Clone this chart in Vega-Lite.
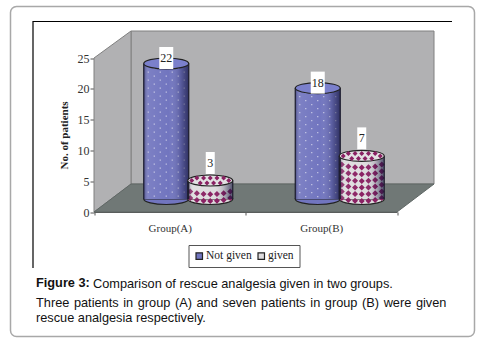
{
"$schema":"https://vega.github.io/schema/vega-lite/v6.json",
"width":464,"height":330,
"autosize":"none",
"padding":{"left":10.5,"top":6.5,"right":10.5,"bottom":7.5},
"background":"white",
"view":{"stroke":"#a8a8a8","strokeWidth":1.5,"cornerRadius":6,"fill":"white"},
"title":{"text":"Figure 3:","subtitle":["Three \u200apatients \u200ain \u200agroup \u200a(A) \u200aand \u200aseven \u200apatients \u200ain \u200agroup \u200a(B) \u200awere \u200agiven","rescue analgesia respectively."],"orient":"bottom","anchor":"start","frame":"group","offset":-60,"dx":25.5,"font":"Liberation Sans","fontSize":12.75,"fontWeight":"bold","color":"#111","subtitleFont":"Liberation Sans","subtitleFontSize":12.75,"subtitleColor":"#111","subtitlePadding":8,"subtitleLineHeight":15},
"data":{"values":[
{"group":"Group(A)","series":"Not given","value":22},
{"group":"Group(A)","series":"given","value":3},
{"group":"Group(B)","series":"Not given","value":18},
{"group":"Group(B)","series":"given","value":7}
]},
"config":{"axis":{"labelFont":"Liberation Serif","titleFont":"Liberation Serif","labelColor":"#333","titleColor":"#222"}},
"layer":[
{"data":{"values":[{}]},"mark":{"type":"point","filled":true,"size":4,"fill":"#b1b1b3","stroke":"#808080","strokeWidth":1,"opacity":1,"shape":"M37,-181H340V-28H37Z"},"encoding":{"x":{"datum":"Group(A)","bandPosition":0,"scale":{"domain":["Group(A)","Group(B)"],"range":[83.5,386.5],"paddingInner":0,"paddingOuter":0},"axis":{"orient":"bottom","offset":-124.5,"tickBand":"extent","domainColor":"#555","tickColor":"#555","tickSize":3,"labelAngle":0,"labelFontSize":11,"labelPadding":7,"title":"Comparison of rescue analgesia given in two groups.","titleFont":"Liberation Sans","titleFontSize":12.75,"titleFontWeight":"normal","titleColor":"#111","titleX":82,"titleY":75,"titleAlign":"left","titleBaseline":"alphabetic"}},"y":{"datum":0,"type":"quantitative","scale":{"domain":[0,25],"range":[205.5,51.5],"nice":false},"axis":{"orient":"left","offset":-83.5,"values":[0,5,10,15,20,25],"grid":false,"domainColor":"#555","tickColor":"#555","tickSize":4,"labelFontSize":12,"labelPadding":1,"title":"No. of patients","titleFontSize":11,"titleFontWeight":"bold","titlePadding":8}}}},
{"data":{"values":[{}]},"mark":{"type":"point","filled":true,"size":4,"fill":"#b1b1b3","stroke":"#808080","strokeWidth":1,"opacity":1,"shape":"M0,-154L37,-181V-28L0,0Z"},"encoding":{"x":{"datum":"Group(A)","bandPosition":0},"y":{"datum":0,"type":"quantitative"}}},
{"data":{"values":[{}]},"mark":{"type":"point","filled":true,"size":4,"fill":"#707876","stroke":"#5f6765","strokeWidth":1,"opacity":1,"shape":"M0,0L37,-28H340L303,0Z"},"encoding":{"x":{"datum":"Group(A)","bandPosition":0},"y":{"datum":0,"type":"quantitative"}}},
{"data":{"values":[{}]},"mark":{"type":"point","filled":false,"size":4,"fill":"transparent","stroke":"black","strokeWidth":1.2,"opacity":1,"shape":"M-61,56V-190.5H358"},"encoding":{"x":{"datum":"Group(A)","bandPosition":0},"y":{"datum":0,"type":"quantitative"}}},

{"mark":{"type":"point","filled":true,"size":4,"opacity":1,"shape":"M-22.5,0A22.5,5.5,0,0,0,22.5,0Z","yOffset":-13,"stroke":"#222","strokeWidth":1.2},"encoding":{"x":{"field":"group","type":"nominal"},"xOffset":{"field":"series","type":"nominal","scale":{"domain":["Not given","given"],"range":[18.5,170],"paddingOuter":0.72,"paddingInner":0}},"y":{"datum":0,"type":"quantitative"},"color":{"field":"series","type":"nominal","scale":{"domain":["Not given","given"],"range":["#7175bf","#dedcde"]},"legend":{"orient":"none","legendX":178,"legendY":238.5,"direction":"horizontal","title":null,"symbolType":"square","symbolSize":42,"symbolStrokeColor":"#222","symbolStrokeWidth":1.2,"labelFont":"Liberation Serif","labelFontSize":11.5,"labelColor":"#222","strokeColor":"#555","fillColor":"white","padding":5,"columnPadding":3,"labelOffset":1}}}},
{"mark":{"type":"bar","width":45,"yOffset":-13,"y2Offset":-13},"encoding":{"x":{"field":"group","type":"nominal"},"xOffset":{"field":"series","type":"nominal"},"y":{"field":"value","type":"quantitative"},"color":{"field":"series","type":"nominal"}}},

{"transform":[{"filter":"datum.series==='Not given'"}],"mark":{"type":"rule","color":"white","opacity":0.6,"strokeWidth":1.2,"strokeDash":[1.2,6.8],"xOffset":-21.5,"yOffset":-13,"y2Offset":-13},"encoding":{"x":{"field":"group","type":"nominal"},"y":{"field":"value","type":"quantitative"},"y2":{"datum":0}}},
{"transform":[{"filter":"datum.series==='Not given'"}],"mark":{"type":"rule","color":"white","opacity":0.6,"strokeWidth":1.2,"strokeDash":[1.2,6.8],"strokeDashOffset":4,"xOffset":-15.5,"yOffset":-13,"y2Offset":-13},"encoding":{"x":{"field":"group","type":"nominal"},"y":{"field":"value","type":"quantitative"},"y2":{"datum":0}}},
{"transform":[{"filter":"datum.series==='Not given'"}],"mark":{"type":"rule","color":"white","opacity":0.6,"strokeWidth":1.2,"strokeDash":[1.2,6.8],"xOffset":-9.5,"yOffset":-13,"y2Offset":-13},"encoding":{"x":{"field":"group","type":"nominal"},"y":{"field":"value","type":"quantitative"},"y2":{"datum":0}}},
{"transform":[{"filter":"datum.series==='Not given'"}],"mark":{"type":"rule","color":"white","opacity":0.6,"strokeWidth":1.2,"strokeDash":[1.2,6.8],"strokeDashOffset":4,"xOffset":-3.5,"yOffset":-13,"y2Offset":-13},"encoding":{"x":{"field":"group","type":"nominal"},"y":{"field":"value","type":"quantitative"},"y2":{"datum":0}}},
{"transform":[{"filter":"datum.series==='Not given'"}],"mark":{"type":"rule","color":"white","opacity":0.6,"strokeWidth":1.2,"strokeDash":[1.2,6.8],"xOffset":2.5,"yOffset":-13,"y2Offset":-13},"encoding":{"x":{"field":"group","type":"nominal"},"y":{"field":"value","type":"quantitative"},"y2":{"datum":0}}},
{"transform":[{"filter":"datum.series==='Not given'"}],"mark":{"type":"rule","color":"white","opacity":0.6,"strokeWidth":1.2,"strokeDash":[1.2,6.8],"strokeDashOffset":4,"xOffset":8.5,"yOffset":-13,"y2Offset":-13},"encoding":{"x":{"field":"group","type":"nominal"},"y":{"field":"value","type":"quantitative"},"y2":{"datum":0}}},
{"transform":[{"filter":"datum.series==='Not given'"}],"mark":{"type":"rule","color":"white","opacity":0.6,"strokeWidth":1.2,"strokeDash":[1.2,6.8],"xOffset":14.5,"yOffset":-13,"y2Offset":-13},"encoding":{"x":{"field":"group","type":"nominal"},"y":{"field":"value","type":"quantitative"},"y2":{"datum":0}}},

{"transform":[{"filter":"datum.series==='given' && datum.group==='Group(A)'"}],"mark":{"type":"point","filled":true,"size":4,"opacity":1,"color":"#8a2163","xOffset":40.5,"yOffset":-13,"shape":"M-20,-3.9l3,3l-3,3l-3,-3zM-20,-10.6l3,3l-3,3l-3,-3zM-13.4,-2l3,3l-3,3l-3,-3zM-13.4,-8.7l3,3l-3,3l-3,-3zM-6.7,-1.2l3,3l-3,3l-3,-3zM-6.7,-7.9l3,3l-3,3l-3,-3zM0,-1l3,3l-3,3l-3,-3zM0,-7.7l3,3l-3,3l-3,-3zM6.7,-1.2l3,3l-3,3l-3,-3zM6.7,-7.9l3,3l-3,3l-3,-3zM13.4,-2l3,3l-3,3l-3,-3zM13.4,-8.7l3,3l-3,3l-3,-3zM20,-3.9l3,3l-3,3l-3,-3zM20,-10.6l3,3l-3,3l-3,-3z"},"encoding":{"x":{"field":"group","type":"nominal"},"y":{"datum":0,"type":"quantitative"}}},
{"transform":[{"filter":"datum.series==='given' && datum.group==='Group(B)'"}],"mark":{"type":"point","filled":true,"size":4,"opacity":1,"color":"#8a2163","xOffset":40.5,"yOffset":-13,"shape":"M-20,-3.9l3,3l-3,3l-3,-3zM-20,-10.6l3,3l-3,3l-3,-3zM-20,-17.3l3,3l-3,3l-3,-3zM-20,-24l3,3l-3,3l-3,-3zM-20,-30.7l3,3l-3,3l-3,-3zM-20,-37.4l3,3l-3,3l-3,-3zM-13.4,-2l3,3l-3,3l-3,-3zM-13.4,-8.7l3,3l-3,3l-3,-3zM-13.4,-15.4l3,3l-3,3l-3,-3zM-13.4,-22.1l3,3l-3,3l-3,-3zM-13.4,-28.8l3,3l-3,3l-3,-3zM-13.4,-35.5l3,3l-3,3l-3,-3zM-6.7,-1.2l3,3l-3,3l-3,-3zM-6.7,-7.9l3,3l-3,3l-3,-3zM-6.7,-14.6l3,3l-3,3l-3,-3zM-6.7,-21.3l3,3l-3,3l-3,-3zM-6.7,-28l3,3l-3,3l-3,-3zM-6.7,-34.7l3,3l-3,3l-3,-3zM0,-1l3,3l-3,3l-3,-3zM0,-7.7l3,3l-3,3l-3,-3zM0,-14.4l3,3l-3,3l-3,-3zM0,-21.1l3,3l-3,3l-3,-3zM0,-27.8l3,3l-3,3l-3,-3zM0,-34.5l3,3l-3,3l-3,-3zM6.7,-1.2l3,3l-3,3l-3,-3zM6.7,-7.9l3,3l-3,3l-3,-3zM6.7,-14.6l3,3l-3,3l-3,-3zM6.7,-21.3l3,3l-3,3l-3,-3zM6.7,-28l3,3l-3,3l-3,-3zM6.7,-34.7l3,3l-3,3l-3,-3zM13.4,-2l3,3l-3,3l-3,-3zM13.4,-8.7l3,3l-3,3l-3,-3zM13.4,-15.4l3,3l-3,3l-3,-3zM13.4,-22.1l3,3l-3,3l-3,-3zM13.4,-28.8l3,3l-3,3l-3,-3zM13.4,-35.5l3,3l-3,3l-3,-3zM20,-3.9l3,3l-3,3l-3,-3zM20,-10.6l3,3l-3,3l-3,-3zM20,-17.3l3,3l-3,3l-3,-3zM20,-24l3,3l-3,3l-3,-3zM20,-30.7l3,3l-3,3l-3,-3zM20,-37.4l3,3l-3,3l-3,-3z"},"encoding":{"x":{"field":"group","type":"nominal"},"y":{"datum":0,"type":"quantitative"}}},

{"mark":{"type":"bar","width":45,"yOffset":-13,"y2Offset":-13,"color":{"gradient":"linear","x1":0,"x2":1,"y1":0,"y2":0,"stops":[{"offset":0,"color":"rgba(20,20,60,0.45)"},{"offset":0.12,"color":"rgba(255,255,255,0.08)"},{"offset":0.55,"color":"rgba(255,255,255,0)"},{"offset":0.8,"color":"rgba(20,20,60,0.2)"},{"offset":1,"color":"rgba(20,20,60,0.7)"}]}},"encoding":{"x":{"field":"group","type":"nominal"},"xOffset":{"field":"series","type":"nominal"},"y":{"field":"value","type":"quantitative"}}},
{"transform":[{"filter":"datum.series==='Not given'"}],"mark":{"type":"rule","color":"#1c1c2c","strokeWidth":1.2,"xOffset":-26,"yOffset":-13,"y2Offset":-13},"encoding":{"x":{"field":"group","type":"nominal"},"y":{"field":"value","type":"quantitative"},"y2":{"datum":0}}},
{"transform":[{"filter":"datum.series==='Not given'"}],"mark":{"type":"rule","color":"#1c1c2c","strokeWidth":1.2,"xOffset":19,"yOffset":-13,"y2Offset":-13},"encoding":{"x":{"field":"group","type":"nominal"},"y":{"field":"value","type":"quantitative"},"y2":{"datum":0}}},
{"transform":[{"filter":"datum.series==='given'"}],"mark":{"type":"rule","color":"#1c1c2c","strokeWidth":1.2,"xOffset":18,"yOffset":-13,"y2Offset":-13},"encoding":{"x":{"field":"group","type":"nominal"},"y":{"field":"value","type":"quantitative"},"y2":{"datum":0}}},
{"transform":[{"filter":"datum.series==='given'"}],"mark":{"type":"rule","color":"#1c1c2c","strokeWidth":1.2,"xOffset":63,"yOffset":-13,"y2Offset":-13},"encoding":{"x":{"field":"group","type":"nominal"},"y":{"field":"value","type":"quantitative"},"y2":{"datum":0}}},

{"transform":[{"filter":"datum.series==='Not given'"}],"mark":{"type":"point","filled":true,"size":4,"opacity":1,"fill":"#7b80cc","stroke":"#222","strokeWidth":1.2,"xOffset":-3.5,"yOffset":-13,"shape":"M-22.5,0A22.5,5.5,0,1,1,22.5,0A22.5,5.5,0,1,1,-22.5,0Z"},"encoding":{"x":{"field":"group","type":"nominal"},"y":{"field":"value","type":"quantitative"}}},
{"transform":[{"filter":"datum.series==='given'"}],"mark":{"type":"point","filled":true,"size":4,"opacity":1,"fill":"#e2e0e2","stroke":"#222","strokeWidth":1.2,"xOffset":40.5,"yOffset":-13,"shape":"M-22.5,0A22.5,5.5,0,1,1,22.5,0A22.5,5.5,0,1,1,-22.5,0Z"},"encoding":{"x":{"field":"group","type":"nominal"},"y":{"field":"value","type":"quantitative"}}},
{"transform":[{"filter":"datum.series==='given'"}],"mark":{"type":"point","filled":true,"size":4,"opacity":1,"color":"#8a2163","xOffset":40.5,"yOffset":-13,"shape":"M-13.4,-5l2.5,2.5l-2.5,2.5l-2.5,-2.5zM-6.7,-5l2.5,2.5l-2.5,2.5l-2.5,-2.5zM0,-5l2.5,2.5l-2.5,2.5l-2.5,-2.5zM6.7,-5l2.5,2.5l-2.5,2.5l-2.5,-2.5zM13.4,-5l2.5,2.5l-2.5,2.5l-2.5,-2.5zM-18.5,-2.5l2.5,2.5l-2.5,2.5l-2.5,-2.5zM18.5,-2.5l2.5,2.5l-2.5,2.5l-2.5,-2.5zM-10,0l2.5,2.5l-2.5,2.5l-2.5,-2.5zM-3.3,0l2.5,2.5l-2.5,2.5l-2.5,-2.5zM3.3,0l2.5,2.5l-2.5,2.5l-2.5,-2.5zM10,0l2.5,2.5l-2.5,2.5l-2.5,-2.5z"},"encoding":{"x":{"field":"group","type":"nominal"},"y":{"field":"value","type":"quantitative"}}},

{"transform":[{"filter":"datum.series==='Not given'"}],"mark":{"type":"point","filled":true,"size":4,"opacity":1,"fill":"white","xOffset":-3.5,"yOffset":-18.5,"shape":"M-7,-11H7V11H-7Z"},"encoding":{"x":{"field":"group","type":"nominal"},"y":{"field":"value","type":"quantitative"}}},
{"transform":[{"filter":"datum.series==='given'"}],"mark":{"type":"point","filled":true,"size":4,"opacity":1,"fill":"white","xOffset":40.5,"yOffset":-30.5,"shape":"M-4.5,-11H4.5V11H-4.5Z"},"encoding":{"x":{"field":"group","type":"nominal"},"y":{"field":"value","type":"quantitative"}}},
{"transform":[{"filter":"datum.series==='Not given'"}],"mark":{"type":"text","font":"Liberation Serif","fontSize":12,"color":"#222","xOffset":-3.5,"yOffset":-18.5,"baseline":"middle"},"encoding":{"x":{"field":"group","type":"nominal"},"y":{"field":"value","type":"quantitative"},"text":{"field":"value","type":"quantitative"}}},
{"transform":[{"filter":"datum.series==='given'"}],"mark":{"type":"text","font":"Liberation Serif","fontSize":12,"color":"#222","xOffset":40.5,"yOffset":-30.5,"baseline":"middle"},"encoding":{"x":{"field":"group","type":"nominal"},"y":{"field":"value","type":"quantitative"},"text":{"field":"value","type":"quantitative"}}}
]
}
